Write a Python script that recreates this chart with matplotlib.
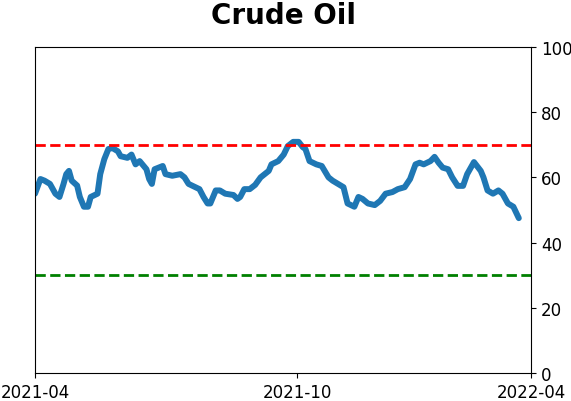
import matplotlib
matplotlib.use("Agg")
import matplotlib.pyplot as plt

# day offsets from 2021-04-01 (axis spans 0..365)
days = [0, 4, 7, 11, 15, 18, 21, 23, 25, 27, 31, 33, 36, 39, 41, 46, 48, 51, 54, 57,
        61, 63, 68, 71, 74, 77, 82, 84, 86, 88, 94, 96, 101, 107, 110, 113, 118, 121,
        124, 127, 129, 133, 136, 140, 146, 149, 151, 154, 158, 162, 166, 172, 174, 179,
        183, 186, 190, 194, 197, 199, 202, 207, 211, 216, 219, 223, 227, 230, 235, 238,
        241, 245, 250, 254, 258, 263, 267, 272, 276, 280, 283, 286, 291, 294, 297, 300,
        304, 307, 311, 315, 318, 323, 328, 330, 333, 337, 341, 344, 348, 352, 356]
values = [55.0, 59.5, 59.0, 58.0, 55.0, 54.0, 58.0, 61.0, 62.0, 59.0, 57.5, 54.0, 51.0,
          51.0, 54.0, 55.0, 61.0, 65.6, 68.7, 69.0, 68.0, 66.5, 66.0, 67.0, 64.0, 65.0,
          62.5, 59.5, 58.0, 62.5, 63.5, 61.0, 60.5, 61.0, 60.0, 58.0, 57.0, 56.4, 54.0,
          52.0, 52.0, 56.0, 56.0, 55.0, 54.6, 53.4, 54.0, 56.4, 56.4, 57.7, 60.0, 62.0,
          64.0, 65.0, 67.0, 69.6, 70.9, 70.9, 69.3, 68.7, 65.0, 64.0, 63.5, 60.0, 59.0,
          58.0, 57.0, 52.0, 51.0, 54.0, 53.4, 52.0, 51.5, 52.8, 55.0, 55.5, 56.4, 57.0,
          59.5, 64.0, 64.5, 64.0, 65.0, 66.3, 64.5, 63.0, 62.5, 60.0, 57.4, 57.4, 61.0,
          64.7, 62.0, 60.0, 56.0, 55.0, 56.0, 55.0, 52.0, 51.0, 47.5]

tick_pos = [0, 193, 365]
tick_labels = ["2021-04", "2021-10", "2022-04"]
upper_level = 70
lower_level = 30

fig = plt.figure(figsize=(5.71, 4.02), dpi=100)
ax = fig.add_axes([0.0613, 0.0697, 0.8687, 0.8109])
ax.plot(days, values, color="#1f77b4", lw=4.3, solid_capstyle="round", solid_joinstyle="round")
ax.axhline(upper_level, color="red", ls="--", lw=2)
ax.axhline(lower_level, color="green", ls="--", lw=2)
ax.set_xlim(0, 365)
ax.set_ylim(0, 100)
ax.set_xticks(tick_pos)
ax.set_xticklabels(tick_labels, fontsize=12)
ax.yaxis.tick_right()
ax.set_yticks([0, 20, 40, 60, 80, 100])
ax.tick_params(axis="y", labelsize=12)
ax.set_title("Crude Oil", fontsize=20, fontweight="bold", pad=17)
fig.savefig("out.png", dpi=100)
